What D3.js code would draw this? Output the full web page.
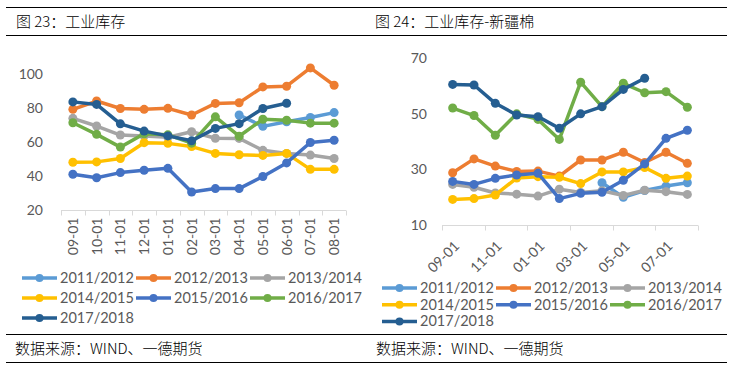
<!DOCTYPE html>
<meta charset="utf-8">
<style>
  body { margin: 0; background: #fff; }
  .tick-label { font-family: Lato, "Liberation Sans", sans-serif; font-size: 14px; fill: #595959; }
  .leg-label { font-family: Lato, "Liberation Sans", sans-serif; font-size: 14.5px; fill: #595959; }
  .cjk { font-family: "Noto Sans CJK SC", sans-serif; font-size: 15px; font-weight: 300; fill: #000; }
</style>
<svg width="735" height="371"></svg>
<script src="https://cdn.jsdelivr.net/npm/d3@7/dist/d3.min.js"></script>
<script>

// 月份
var months = ["09-01", "10-01", "11-01", "12-01", "01-01", "02-01", "03-01", "04-01", "05-01", "06-01", "07-01", "08-01"];
var seasons = ["2011/2012", "2012/2013", "2013/2014", "2014/2015", "2015/2016", "2016/2017", "2017/2018"];
var colors = ["#5B9BD5", "#ED7D31", "#A5A5A5", "#FFC000", "#4472C4", "#70AD47", "#255E91"];

// 图23 工业库存
var ind1112 = [null, null, null, null, null, null, null, 75.9, 69.2, 71.9, 74.4, 77.3];
var ind1213 = [79.2, 84.1, 79.7, 79.2, 79.8, 75.9, 82.7, 83.1, 92.4, 92.8, 103.6, 93.4];
var ind1314 = [73.9, 69.4, 64.1, 63.6, 62.8, 66.0, 62.2, 62.1, 55.1, 53.3, 52.3, 50.3];
var ind1415 = [48.1, 48.3, 50.3, 59.6, 59.2, 57.3, 53.3, 52.5, 52.1, 53.3, 43.9, 43.9];
var ind1516 = [41.0, 39.0, 42.0, 43.4, 44.5, 30.6, 32.6, 32.6, 39.7, 47.7, 59.7, 61.0];
var ind1617 = [71.3, 64.5, 57.0, 64.8, 64.2, 59.3, 74.8, 63.4, 73.4, 72.8, 71.1, 71.1];
var ind1718 = [83.6, 82.1, 70.7, 66.4, 63.6, 60.7, 68.0, 70.8, 79.7, 82.8, null, null];

// 图24 工业库存-新疆棉
var xj1112 = [null, null, null, null, null, null, null, 25.2, 20.0, 22.4, 24.0, 25.2];
var xj1213 = [28.8, 33.8, 31.2, 29.3, 29.4, 27.6, 33.4, 33.4, 36.2, 32.5, 36.2, 32.2];
var xj1314 = [24.6, 23.6, 21.5, 21.1, 20.4, 22.9, 21.7, 22.3, 20.6, 22.5, 22.0, 21.0];
var xj1415 = [19.2, 19.5, 20.8, 26.9, 27.4, 27.2, 24.9, 29.1, 29.1, 30.7, 26.8, 27.6];
var xj1516 = [25.7, 24.6, 26.8, 28.0, 28.6, 19.5, 21.4, 21.8, 26.1, 32.0, 41.2, 44.1];
var xj1617 = [52.1, 49.4, 42.3, 50.0, 48.0, 40.8, 61.4, 52.6, 61.0, 57.6, 58.0, 52.4];
var xj1718 = [60.6, 60.4, 53.8, 49.6, 49.0, 44.8, 50.0, 52.6, 58.8, 62.8, null, null];

var svg = d3.select("svg");

// 标题和分隔线
[7.5, 35.5, 334.5, 362.5].forEach(function(yy) {
  svg.append("line").attr("x1", 6).attr("x2", 727).attr("y1", yy).attr("y2", yy).attr("stroke", "#000");
});

svg.append("text").attr("class", "cjk").attr("x", 16).attr("y", 27).text("图 23：工业库存");
svg.append("text").attr("class", "cjk").attr("x", 375).attr("y", 27).text("图 24：工业库存-新疆棉");
svg.append("text").attr("class", "cjk").attr("x", 15).attr("y", 354).text("数据来源：WIND、一德期货");
svg.append("text").attr("class", "cjk").attr("x", 376).attr("y", 354).text("数据来源：WIND、一德期货");

function drawChart(opt) {
  var g = svg.append("g");
  var x = d3.scaleBand().domain(months).range([opt.x0, opt.x1]);
  var y = d3.scaleLinear().domain(opt.domain).range([opt.yb, opt.yt]);

  // y轴标签
  g.selectAll(".ylab").data(opt.yticks).enter().append("text")
      .attr("class", "tick-label")
      .attr("x", opt.ylabX)
      .attr("y", function(d) { return y(d); })
      .attr("dy", "0.35em")
      .attr("text-anchor", "end")
      .text(function(d) { return d; });

  // x轴
  var axisY = y(opt.domain[0]) + 0.5;
  g.append("line").attr("x1", opt.x0).attr("x2", opt.x1).attr("y1", axisY).attr("y2", axisY)
      .attr("stroke", "#D9D9D9");
  var tickIdx = d3.range(0, months.length + 1, opt.every);
  g.selectAll(".xtick").data(tickIdx).enter().append("line")
      .attr("x1", function(i) { return Math.round(opt.x0 + i * x.step()) + 0.5; })
      .attr("x2", function(i) { return Math.round(opt.x0 + i * x.step()) + 0.5; })
      .attr("y1", axisY).attr("y2", axisY + 5)
      .attr("stroke", "#D9D9D9");

  var labs = months.filter(function(m, i) { return i % opt.every == 0; });
  g.selectAll(".xlab").data(labs).enter().append("text")
      .attr("class", "tick-label")
      .attr("text-anchor", "end")
      .attr("dy", "0.35em")
      .attr("transform", function(d) {
        return "translate(" + (x(d) + x.bandwidth() / 2 + opt.labDx) + "," + (axisY + opt.labDy) + ") rotate(" + opt.rot + ")";
      })
      .text(function(d) { return d; });

  // 折线
  var line = d3.line()
      .defined(function(d) { return d.v != null; })
      .x(function(d) { return x(d.m) + x.bandwidth() / 2; })
      .y(function(d) { return y(d.v); });

  opt.series.forEach(function(s, k) {
    var pts = s.map(function(v, i) { return {m: months[i], v: v}; });
    g.append("path").datum(pts)
        .attr("fill", "none")
        .attr("stroke", colors[k])
        .attr("stroke-width", 3.5)
        .attr("stroke-linejoin", "round")
        .attr("d", line);
    g.selectAll(null).data(pts.filter(function(d) { return d.v != null; })).enter().append("circle")
        .attr("cx", function(d) { return x(d.m) + x.bandwidth() / 2; })
        .attr("cy", function(d) { return y(d.v); })
        .attr("r", 4.5)
        .attr("fill", colors[k]);
  });

  // 图例
  seasons.forEach(function(name, k) {
    var lx = opt.legX + (k % 3) * 114;
    var ly = opt.legY + Math.floor(k / 3) * opt.legDy;
    g.append("line").attr("x1", lx).attr("x2", lx + 35).attr("y1", ly).attr("y2", ly)
        .attr("stroke", colors[k]).attr("stroke-width", 3.5);
    g.append("circle").attr("cx", lx + 17.5).attr("cy", ly).attr("r", 4).attr("fill", colors[k]);
    g.append("text").attr("class", "leg-label").attr("x", lx + 38).attr("y", ly)
        .attr("dy", "0.35em").text(name);
  });
}

drawChart({
  series: [ind1112, ind1213, ind1314, ind1415, ind1516, ind1617, ind1718],
  x0: 61, x1: 346, yb: 210, yt: 74, domain: [20, 100], yticks: [20, 40, 60, 80, 100],
  ylabX: 43, every: 1, rot: -90, labDx: 0, labDy: 7,
  legX: 22, legY: 278, legDy: 20
});

drawChart({
  series: [xj1112, xj1213, xj1314, xj1415, xj1516, xj1617, xj1718],
  x0: 442, x1: 698, yb: 225, yt: 58.3, domain: [10, 70], yticks: [10, 30, 50, 70],
  ylabX: 427, every: 2, rot: -45, labDx: 4, labDy: 18,
  legX: 382, legY: 288, legDy: 16.7
});
</script>
